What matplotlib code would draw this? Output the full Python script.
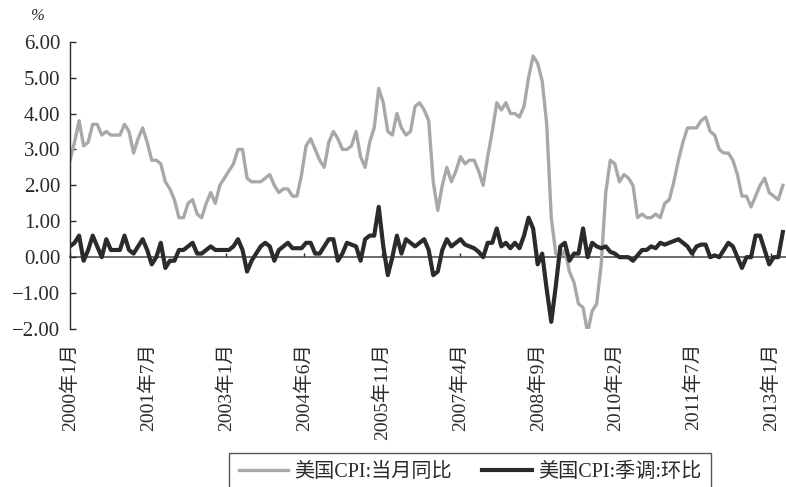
import matplotlib
matplotlib.use("Agg")
import matplotlib.pyplot as plt
import numpy as np
from matplotlib.ticker import FuncFormatter

plt.rcParams['font.family'] = ['Liberation Serif', 'Noto Sans CJK SC']

# US CPI, monthly from 2000-01 to 2013-02 (%)
cpi_yoy = [
    2.7, 3.2, 3.8, 3.1, 3.2, 3.7, 3.7, 3.4, 3.5, 3.4, 3.4, 3.4,   # 2000
    3.7, 3.5, 2.9, 3.3, 3.6, 3.2, 2.7, 2.7, 2.6, 2.1, 1.9, 1.6,   # 2001
    1.1, 1.1, 1.5, 1.6, 1.2, 1.1, 1.5, 1.8, 1.5, 2.0, 2.2, 2.4,   # 2002
    2.6, 3.0, 3.0, 2.2, 2.1, 2.1, 2.1, 2.2, 2.3, 2.0, 1.8, 1.9,   # 2003
    1.9, 1.7, 1.7, 2.3, 3.1, 3.3, 3.0, 2.7, 2.5, 3.2, 3.5, 3.3,   # 2004
    3.0, 3.0, 3.1, 3.5, 2.8, 2.5, 3.2, 3.6, 4.7, 4.3, 3.5, 3.4,   # 2005
    4.0, 3.6, 3.4, 3.5, 4.2, 4.3, 4.1, 3.8, 2.1, 1.3, 2.0, 2.5,   # 2006
    2.1, 2.4, 2.8, 2.6, 2.7, 2.7, 2.4, 2.0, 2.8, 3.5, 4.3, 4.1,   # 2007
    4.3, 4.0, 4.0, 3.9, 4.2, 5.0, 5.6, 5.4, 4.9, 3.7, 1.1, 0.1,   # 2008
    0.0, 0.2, -0.4, -0.7, -1.3, -1.4, -2.1, -1.5, -1.3, -0.2, 1.8, 2.7,  # 2009
    2.6, 2.1, 2.3, 2.2, 2.0, 1.1, 1.2, 1.1, 1.1, 1.2, 1.1, 1.5,   # 2010
    1.6, 2.1, 2.7, 3.2, 3.6, 3.6, 3.6, 3.8, 3.9, 3.5, 3.4, 3.0,   # 2011
    2.9, 2.9, 2.7, 2.3, 1.7, 1.7, 1.4, 1.7, 2.0, 2.2, 1.8, 1.7,   # 2012
    1.6, 2.0,                                                     # 2013
]
cpi_mom_sa = [
    0.3, 0.4, 0.6, -0.1, 0.2, 0.6, 0.3, 0.0, 0.5, 0.2, 0.2, 0.2,
    0.6, 0.2, 0.1, 0.3, 0.5, 0.2, -0.2, 0.0, 0.4, -0.3, -0.1, -0.1,
    0.2, 0.2, 0.3, 0.4, 0.1, 0.1, 0.2, 0.3, 0.2, 0.2, 0.2, 0.2,
    0.3, 0.5, 0.2, -0.4, -0.1, 0.1, 0.3, 0.4, 0.3, -0.1, 0.2, 0.3,
    0.4, 0.25, 0.25, 0.25, 0.4, 0.4, 0.1, 0.1, 0.3, 0.5, 0.5, -0.1,
    0.1, 0.4, 0.35, 0.3, -0.1, 0.5, 0.6, 0.6, 1.4, 0.3, -0.5, 0.0,
    0.6, 0.1, 0.5, 0.4, 0.3, 0.4, 0.5, 0.2, -0.5, -0.4, 0.2, 0.5,
    0.3, 0.4, 0.5, 0.35, 0.3, 0.25, 0.15, 0.0, 0.4, 0.4, 0.8, 0.3,
    0.4, 0.25, 0.4, 0.25, 0.6, 1.1, 0.8, -0.2, 0.1, -0.9, -1.8, -0.8,
    0.3, 0.4, -0.1, 0.1, 0.1, 0.8, 0.0, 0.4, 0.3, 0.25, 0.3, 0.15,
    0.1, 0.0, 0.0, 0.0, -0.1, 0.05, 0.2, 0.2, 0.3, 0.25, 0.4, 0.35,
    0.4, 0.45, 0.5, 0.4, 0.3, 0.1, 0.3, 0.35, 0.35, 0.0, 0.05, 0.0,
    0.2, 0.4, 0.3, 0.0, -0.3, 0.0, 0.0, 0.6, 0.6, 0.2, -0.2, 0.0,
    0.0, 0.7,
]
series_names = ['美国CPI:当月同比', '美国CPI:季调:环比']
tick_labels = ['2000年1月', '2001年7月', '2003年1月', '2004年6月', '2005年11月',
               '2007年4月', '2008年9月', '2010年2月', '2011年7月', '2013年1月']
tick_step = 17.16

months = np.arange(len(cpi_yoy))
tick_pos = np.arange(len(tick_labels)) * tick_step
ink = '#2a2a2a'

fig = plt.figure(figsize=(7.86, 4.87), dpi=100)
ax = fig.add_axes([70 / 786, 1 - 329 / 487, 716 / 786, 287.3 / 487])

ax.plot(months, cpi_yoy, color='#a8a8a8', lw=2.4, label=series_names[0])
ax.plot(months, cpi_mom_sa, color='#2b2b2b', lw=3.0, label=series_names[1])

ax.set_xlim(0, 157.7)
ax.set_ylim(-2, 6)
ax.set_yticks(np.arange(-2, 7, 1))
ax.yaxis.set_major_formatter(FuncFormatter(lambda v, p: f"{v:.2f}".replace('-', '\u2212')))

for side in ['top', 'right', 'bottom']:
    ax.spines[side].set_visible(False)
ax.spines['left'].set_color(ink)
ax.spines['left'].set_linewidth(1.0)
ax.tick_params(axis='y', direction='in', length=4, width=1, color=ink,
               pad=7, labelsize=15, labelcolor=ink)
ax.set_xticks(tick_pos, tick_labels, rotation=90)
ax.tick_params(axis='x', length=0, pad=10, labelsize=14, labelcolor=ink)

# zero line with its own tick marks, labels stay at the bottom
zero_axis = ax.secondary_xaxis((0 - (-2)) / 8)
zero_axis.set_xticks(tick_pos)
zero_axis.tick_params(direction='in', length=3, width=1, color=ink,
                      labelbottom=False, labeltop=False)
zero_axis.spines['bottom'].set_color('#444444')
zero_axis.spines['bottom'].set_linewidth(1.1)

fig.text(37 / 786, 1 - 16 / 487, '%', fontsize=12, style='italic',
         ha='center', va='center', color=ink)

leg = fig.legend(loc='upper center', bbox_to_anchor=(470 / 786, 1 - 452.7 / 487),
                 borderaxespad=0, ncol=2, frameon=True, fancybox=False,
                 edgecolor=ink, fontsize=14.5, handlelength=2.45, handletextpad=0.3,
                 columnspacing=1.5, borderpad=0.5)
leg.get_frame().set_linewidth(1.0)
for t in leg.get_texts():
    t.set_color(ink)

fig.savefig('out.png', dpi=100)
